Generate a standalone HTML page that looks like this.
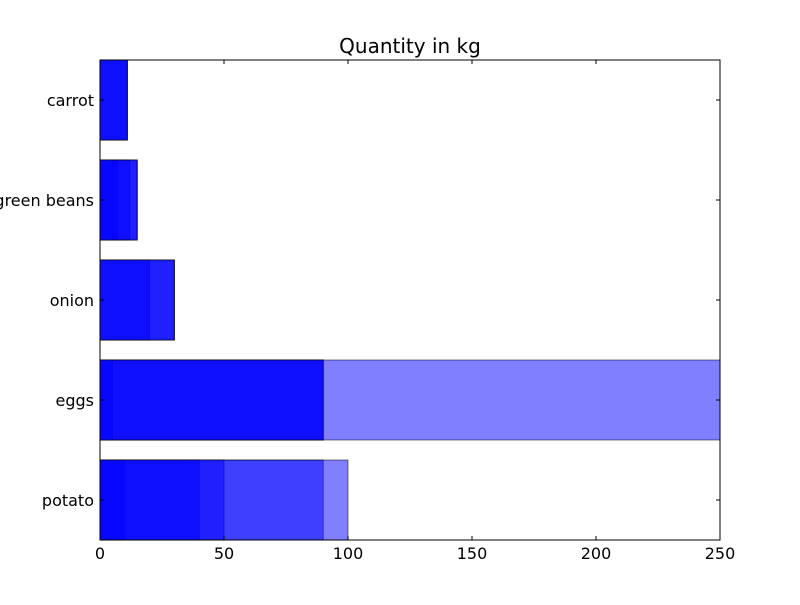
<!DOCTYPE html>
<html><head><meta charset="utf-8"><style>body{margin:0;background:#fff}text{font-family:"DejaVu Sans","Liberation Sans",sans-serif}</style></head>
<body>
<svg id="c" width="800" height="600">
<defs><clipPath id="clip"><rect x="100" y="60" width="620" height="480"/></clipPath></defs>
<g id="bars" clip-path="url(#clip)"></g>
<g id="axes"></g>
</svg>
<script>
const categories=["potato","eggs","onion","green beans","carrot"];
const potatoValues=[10,40,50,90,100];
const eggsValues=[5,90,90,90,300];
const onionValues=[20,30,30,30];
const beansValues=[7,12,15,15,15];
const carrotValues=[11,11,11,11];
const xTicks=[0,50,100,150,200,250];
const title="Quantity in kg";
const series=[potatoValues,eggsValues,onionValues,beansValues,carrotValues];
const X0=100,X1=720,Y0=540,Y1=60,XMAX=250,YMAX=4.8;
const xs=v=>X0+v/XMAX*(X1-X0);
const ys=v=>Y0-v/YMAX*(Y0-Y1);
const NS="http://www.w3.org/2000/svg";
const bars=document.getElementById('bars'),axes=document.getElementById('axes');
function mk(p,tag,at){const e=document.createElementNS(NS,tag);for(const k in at)e.setAttribute(k,at[k]);p.appendChild(e);return e;}
series.forEach((vals,i)=>{vals.forEach((v,j)=>{
 const r=mk(bars,'rect',{x:xs(0),y:ys(i+0.8),width:xs(v)-xs(0),height:ys(i)-ys(i+0.8),fill:'#0000ff','fill-opacity':0.5,stroke:'#000','stroke-opacity':0.5,'stroke-width':1});
 
 
});});
const frame=mk(axes,'rect',{x:X0,y:Y1,width:X1-X0,height:Y0-Y1,fill:'none',stroke:'#000','stroke-width':1});


xTicks.forEach(t=>{const x=xs(t);
 mk(axes,'line',{x1:x,x2:x,y1:Y0,y2:Y0-4,stroke:'#000'});
 mk(axes,'line',{x1:x,x2:x,y1:Y1,y2:Y1+4,stroke:'#000'});
 const tx=mk(axes,'text',{x:x,y:Y0+19,'text-anchor':'middle','font-size':16});tx.textContent=t;
 
 
});
categories.forEach((c,i)=>{const y=ys(i+0.4);
 mk(axes,'line',{x1:X0,x2:X0+4,y1:y,y2:y,stroke:'#000'});
 mk(axes,'line',{x1:X1,x2:X1-4,y1:y,y2:y,stroke:'#000'});
 const tx=mk(axes,'text',{x:X0-6,y:y+6,'text-anchor':'end','font-size':16});tx.textContent=c;
 
 
});
const tt=mk(axes,'text',{x:410,y:53,'text-anchor':'middle','font-size':20});tt.textContent=title;


</script>
</body></html>
